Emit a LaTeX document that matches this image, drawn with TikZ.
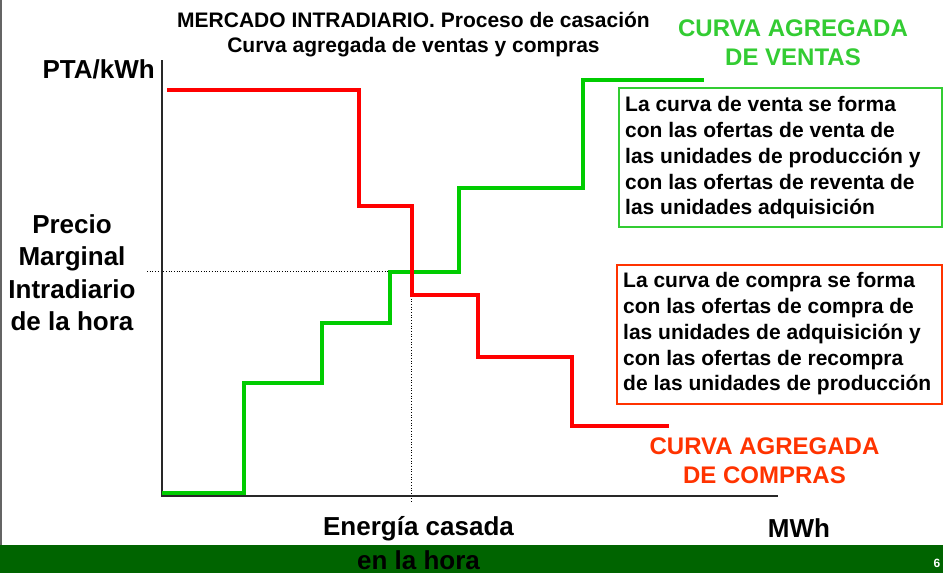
\documentclass[tikz,border=0pt]{standalone}
\usepackage{fontspec}
\setmainfont{Liberation Sans}
\definecolor{curvegreen}{RGB}{0,204,0}
\definecolor{labelgreen}{RGB}{51,204,51}
\definecolor{curvered}{RGB}{255,0,0}
\definecolor{labelred}{RGB}{255,51,0}
\definecolor{bargreen}{RGB}{0,100,0}
\definecolor{axisgray}{RGB}{40,40,40}
\definecolor{framegray}{RGB}{100,100,100}
\tikzset{
  curve/.style={line width=4pt, line join=miter},
  axisline/.style={draw=axisgray, line width=1.4pt},
  guide/.style={draw=black, line width=0.7pt, dotted},
  infobox/.style={line width=2pt},
  boxtext/.style={anchor=north west, inner sep=0pt, align=left, font=\bfseries\fontsize{21}{25.7}\selectfont},
  bigtext/.style={inner sep=0pt, align=center, font=\bfseries\fontsize{26}{32.5}\selectfont},
  curvelabel/.style={anchor=north, inner sep=0pt, align=center, font=\bfseries\fontsize{24}{28.5}\selectfont},
}
\begin{document}
\begin{tikzpicture}[x=1pt,y=-1pt]
\useasboundingbox (0,0) rectangle (943,573);
\fill[white] (0,0) rectangle (943,573);
% bottom bar and left frame
\fill[bargreen] (0,545) rectangle (943,573);
\draw[draw=framegray, line width=1.5pt] (0.75,0) -- (0.75,545);
\node[text=white, font=\bfseries\fontsize{12}{14}\selectfont, inner sep=0pt] (pagenum) at (937,563) {6};
% title
\node[anchor=north, inner sep=0pt, align=center, font=\bfseries\fontsize{21}{25}\selectfont] (title) at (413.5,12)
  {MERCADO INTRADIARIO. Proceso de casación\\Curva agregada de ventas y compras};
% guide lines
\coordinate (pmL) at (147,271.5);
\coordinate (pmR) at (390,271.5);
\coordinate (ecT) at (411,271.5);
\coordinate (ecB) at (411,503);
\draw[guide] (pmL) -- (pmR);
\draw[guide] (ecT) -- (ecB);
% axes
\coordinate (yTop) at (162,60);
\coordinate (origin) at (162,496);
\coordinate (xEnd) at (778,496);
\draw[axisline] (yTop) -- (origin) -- (xEnd);
% sales curve (green)
\draw[curve, draw=curvegreen] (162,493) -- (243.5,493) -- (243.5,383) -- (321.5,383) -- (321.5,323)
  -- (390,323) -- (390,271.5) -- (459,271.5) -- (459,188) -- (583,188) -- (583,80) -- (704,80);
% purchase curve (red)
\draw[curve, draw=curvered] (167,90) -- (359,90) -- (359,206) -- (412,206) -- (412,295) -- (478,295)
  -- (478,357) -- (572,357) -- (572,426) -- (669,426);
% axis labels
\node[bigtext, anchor=north east] (ylabel) at (155,59) {PTA/kWh};
\node[bigtext, anchor=north] (pmlabel) at (72,214) {Precio\\Marginal\\Intradiario\\de la hora};
\node[bigtext, anchor=north, font=\bfseries\fontsize{26}{34}\selectfont] (eclabel) at (418.5,516) {Energía casada\\en la hora};
\node[bigtext, anchor=north] (xlabel) at (799,518) {MWh};
% curve labels
\node[curvelabel, text=labelgreen] (ventaslabel) at (793,20) {CURVA AGREGADA\\DE VENTAS};
\node[curvelabel, text=labelred] (compraslabel) at (764.5,438) {CURVA AGREGADA\\DE COMPRAS};
% info boxes
\draw[infobox, draw=labelgreen] (619,88) rectangle (942,227);
\node[boxtext] (ventastext) at (625,96.5) {La curva de venta se forma\\con las ofertas de venta de\\las unidades de producción y\\con las ofertas de reventa de\\las unidades adquisición};
\draw[infobox, draw=labelred] (617,265) rectangle (942,404);
\node[boxtext] (comprastext) at (623,272.5) {La curva de compra se forma\\con las ofertas de compra de\\las unidades de adquisición y\\con las ofertas de recompra\\de las unidades de producción};
\end{tikzpicture}
\end{document}
